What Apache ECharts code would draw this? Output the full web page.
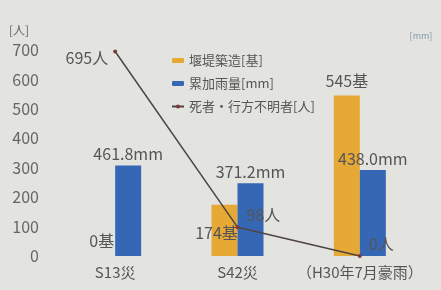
<!DOCTYPE html>
<html><head><meta charset="utf-8">
<script src="https://cdn.jsdelivr.net/npm/echarts@6/dist/echarts.min.js"></script>
<style>html,body{margin:0;padding:0;background:#e3e3e0}#c{width:441px;height:290px}</style>
</head><body><div id="c"></div>
<script>
const categories = ['S13災', 'S42災', '（H30年7月豪雨）'];
const damCount = [0, 174, 545];          // 堰堤築造[基]
const rainfall = [461.8, 371.2, 438.0];  // 累加雨量[mm]
const deaths = [695, 98, 0];             // 死者・行方不明者[人]
const leftTicks = [0, 100, 200, 300, 400, 500, 600, 700];

const font = '"Noto Sans CJK JP", "Noto Sans", sans-serif';
const labelColor = '#555';
const chart = echarts.init(document.getElementById('c'));

const damLabelPos = [
  {position: 'insideBottomRight', offset: [4, -2]},
  {position: 'insideBottom', offset: [-8, -10]},
  {position: 'top', offset: [0, -2]}
];
const deathLabelPos = [
  {position: 'left', offset: [0, 6]},
  {position: 'right', offset: [2, -12]},
  {position: 'right', offset: [2, -12]}
];

chart.setOption({
  backgroundColor: '#e3e3e0',
  textStyle: {fontFamily: font},
  animation: false,
  legend: {
    orient: 'vertical', left: 166, top: 49,
    itemWidth: 12, itemHeight: 5, itemGap: 10,
    textStyle: {fontSize: 13, color: '#555', fontFamily: font},
    data: ['堰堤築造[基]', '累加雨量[mm]', '死者・行方不明者[人]']
  },
  grid: {left: 54, right: 20, top: 50, bottom: 34},
  xAxis: {
    type: 'category', data: categories,
    axisLine: {show: false}, axisTick: {show: false},
    axisLabel: {interval: 0, fontSize: 15, color: '#555', margin: 9, fontFamily: font}
  },
  yAxis: [{
    type: 'value', min: 0, max: 700, interval: 100,
    name: '[人]', nameLocation: 'end', nameGap: 14,
    nameTextStyle: {fontSize: 12, color: '#666', align: 'right', padding: [0, 25, 0, 0]},
    splitLine: {show: false}, axisLine: {show: false}, axisTick: {show: false},
    axisLabel: {fontSize: 16, color: '#666', margin: 15, fontFamily: font,
      formatter: v => leftTicks.includes(v) ? String(v) : ''}
  }, {
    type: 'value', min: 0, max: 1050, interval: 150,
    name: '[mm]', nameLocation: 'end', nameGap: 10,
    nameTextStyle: {fontSize: 9, color: '#8899aa'},
    splitLine: {show: false}, axisLine: {show: false}, axisTick: {show: false},
    axisLabel: {show: false}
  }],
  series: [{
    name: '堰堤築造[基]', type: 'bar', yAxisIndex: 0, barWidth: 26, barGap: '0%',
    itemStyle: {color: '#e6a936'},
    data: damCount.map((v, i) => ({
      value: v,
      label: Object.assign({show: true, formatter: v + '基', fontSize: 16, color: labelColor}, damLabelPos[i])
    }))
  }, {
    name: '累加雨量[mm]', type: 'bar', yAxisIndex: 1, barWidth: 26,
    itemStyle: {color: '#3567b4'},
    label: {show: true, position: 'top', fontSize: 16, color: labelColor, distance: 3,
      formatter: p => p.value.toFixed(1) + 'mm'},
    data: rainfall
  }, {
    name: '死者・行方不明者[人]', type: 'line', yAxisIndex: 0,
    symbol: 'circle', symbolSize: 4,
    lineStyle: {color: '#4e4444', width: 1.5},
    itemStyle: {color: '#7a3a3a'},
    z: 5,
    data: deaths.map((v, i) => ({
      value: v,
      label: Object.assign({show: true, formatter: v + '人', fontSize: 16, color: labelColor}, deathLabelPos[i])
    }))
  }]
});
</script></body></html>
